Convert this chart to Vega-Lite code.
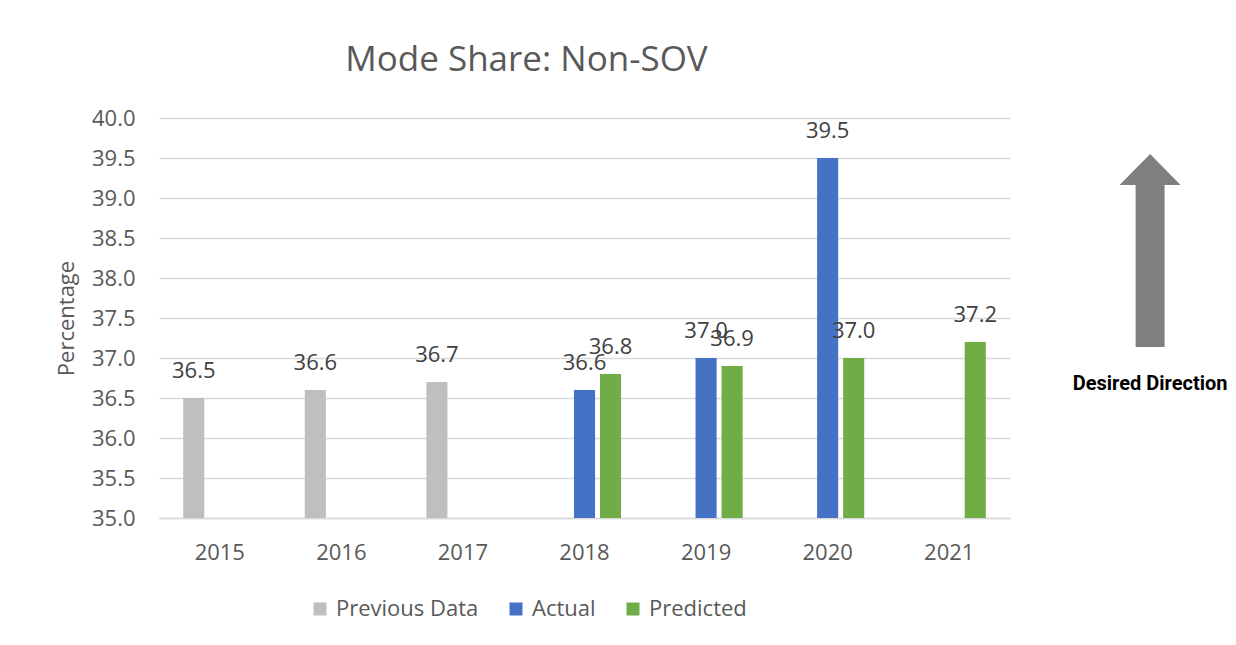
{
  "$schema": "https://vega.github.io/schema/vega-lite/v6.json",
  "padding": {"left": 55, "top": 43, "right": 0, "bottom": 0},
  "background": "white",
  "config": {"view": {"stroke": null}, "font": "Open Sans"},
  "spacing": 50,
  "hconcat": [
    {
      "width": 851,
      "height": 400,
      "title": {"text": "Mode Share: Non-SOV", "fontSize": 35, "font": "Open Sans", "fontWeight": "normal", "color": "#595959", "anchor": "middle", "dx": -58, "offset": 29},
      "data": {"values": [
        {"year": "2015", "series": "Previous Data", "value": 36.5},
        {"year": "2016", "series": "Previous Data", "value": 36.6},
        {"year": "2017", "series": "Previous Data", "value": 36.7},
        {"year": "2018", "series": "Actual", "value": 36.6},
        {"year": "2018", "series": "Predicted", "value": 36.8},
        {"year": "2019", "series": "Actual", "value": 37.0},
        {"year": "2019", "series": "Predicted", "value": 36.9},
        {"year": "2020", "series": "Actual", "value": 39.5},
        {"year": "2020", "series": "Predicted", "value": 37.0},
        {"year": "2021", "series": "Predicted", "value": 37.2}
      ]},
      "encoding": {
        "x": {"field": "year", "type": "nominal", "scale": {"paddingInner": 0, "paddingOuter": 0},
              "axis": {"title": null, "labelAngle": 0, "labelFontSize": 22, "labelColor": "#595959", "labelPadding": 24, "ticks": false, "domainColor": "#d9d9d9", "domainWidth": 1.5, "grid": false}},
        "xOffset": {"field": "series", "type": "nominal", "scale": {"domain": ["Previous Data", "Actual", "Predicted"], "paddingInner": 0.19, "paddingOuter": 0.93}},
        "y": {"field": "value", "type": "quantitative", "scale": {"domain": [35, 40], "zero": false, "nice": false},
              "axis": {"title": "Percentage", "titleFontSize": 22, "titleFontWeight": "normal", "titleColor": "#595959", "titlePadding": 13,
                       "values": [35, 35.5, 36, 36.5, 37, 37.5, 38, 38.5, 39, 39.5, 40], "format": ".1f",
                       "labelFontSize": 22, "labelColor": "#595959", "labelPadding": 24, "ticks": false, "domain": false,
                       "gridColor": "#d9d9d9", "gridWidth": 1.5}}
      },
      "layer": [
        {
          "mark": {"type": "bar"},
          "encoding": {
            "y2": {"datum": 35},
            "color": {"field": "series", "type": "nominal",
                      "scale": {"domain": ["Previous Data", "Actual", "Predicted"], "range": ["#bfbfbf", "#4472c4", "#70ad47"]},
                      "legend": {"title": null, "orient": "none", "legendX": 150, "legendY": 480, "direction": "horizontal",
                                 "symbolType": "square", "symbolSize": 169, "symbolStrokeWidth": 0, "labelFontSize": 22,
                                 "labelColor": "#595959", "labelOffset": 5, "columnPadding": 26, "labelLimit": 300}}
          }
        },
        {
          "mark": {"type": "text", "dy": -20, "baseline": "alphabetic", "fontSize": 22, "color": "#404040"},
          "encoding": {"text": {"field": "value", "type": "quantitative", "format": ".1f"}}
        }
      ]
    },
    {
      "width": 170,
      "height": 400,
      "data": {"values": [{"label": "Desired Direction"}]},
      "layer": [
        {
          "mark": {"type": "point", "shape": "M0,-1L0.316,-0.679L0.15,-0.679L0.15,1L-0.15,1L-0.15,-0.679L-0.316,-0.679Z", "size": 37249, "filled": true, "fill": "#7f7f7f", "strokeWidth": 0, "opacity": 1},
          "encoding": {
            "x": {"datum": 0.53, "type": "quantitative", "scale": {"domain": [0, 1]}, "axis": null},
            "y": {"datum": 0.669, "type": "quantitative", "scale": {"domain": [0, 1]}, "axis": null}
          }
        },
        {
          "mark": {"type": "text", "fontWeight": "bold", "fontSize": 20, "font": "Roboto", "color": "#000000"},
          "encoding": {
            "x": {"datum": 0.53, "type": "quantitative", "scale": {"domain": [0, 1]}, "axis": null},
            "y": {"datum": 0.335, "type": "quantitative", "scale": {"domain": [0, 1]}, "axis": null},
            "text": {"field": "label"}
          }
        }
      ]
    }
  ]
}
